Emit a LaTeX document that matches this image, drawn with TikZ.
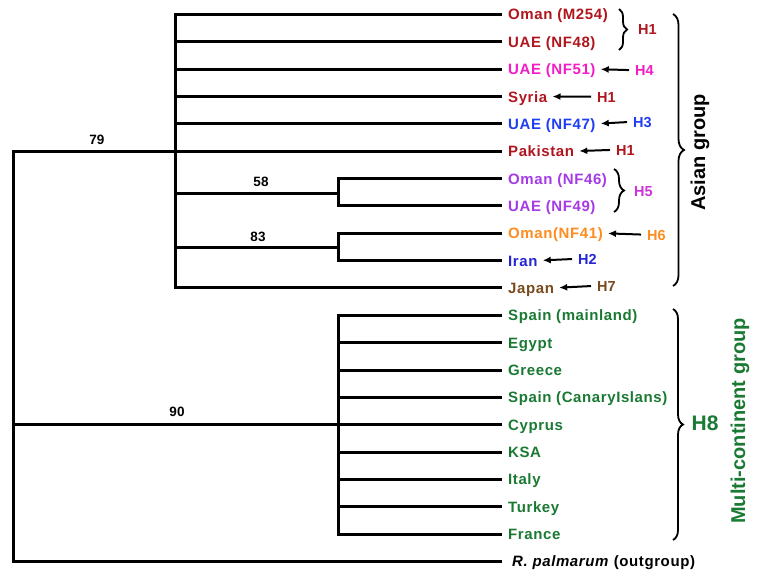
\documentclass[tikz,border=0pt]{standalone}
\usepackage{fontspec}
\setmainfont{Liberation Sans}
\usetikzlibrary{arrows.meta,decorations.pathreplacing}

\definecolor{hred}{HTML}{B0161E}
\definecolor{hpink}{HTML}{F21DC7}
\definecolor{hviolet}{HTML}{A63AE6}
\definecolor{hmag}{HTML}{CC33D9}
\definecolor{hblue}{HTML}{1F3DF2}
\definecolor{hindigo}{HTML}{2626D4}
\definecolor{horange}{HTML}{FF8C1F}
\definecolor{hbrown}{HTML}{7A4A1F}
\definecolor{hgreen}{HTML}{1A7A33}

\begin{document}
\begin{tikzpicture}[x=1pt,y=-1pt,
  tree/.style={line width=3pt,line join=miter},
  leaf/.style={anchor=base west,inner sep=0pt,text height=11pt,text depth=0pt,
    font=\fontsize{15}{18}\selectfont\bfseries\addfontfeatures{LetterSpace=4}},
  hlab/.style={anchor=base west,inner sep=0pt,text height=10.5pt,text depth=0pt,
    font=\fontsize{14.5}{17}\selectfont\bfseries},
  boot/.style={inner sep=0pt,font=\fontsize{13.5}{16}\selectfont\bfseries},
  arr/.style={line width=2pt,-{Latex[length=8pt,width=7pt]},shorten <=6pt,shorten >=5pt},
  brace/.style={decorate,decoration={brace,amplitude=#1},line width=1.8pt},
  group/.style={rotate=90,inner sep=0pt,font=\fontsize{20}{24}\selectfont\bfseries}]

\useasboundingbox[fill=white] (0,0) rectangle (762,571);

% ---- leaf labels ----
\node[leaf,text=hred]    (l1)  at (508,19.9)  {Oman (M254)};
\node[leaf,text=hred]    (l2)  at (508,47.3)  {UAE (NF48)};
\node[leaf,text=hpink]   (l3)  at (508,74.6)  {UAE (NF51)};
\node[leaf,text=hred]    (l4)  at (508,102.0) {Syria};
\node[leaf,text=hblue]   (l5)  at (508,129.3) {UAE (NF47)};
\node[leaf,text=hred]    (l6)  at (508,156.7) {Pakistan};
\node[leaf,text=hviolet] (l7)  at (508,184.0) {Oman (NF46)};
\node[leaf,text=hviolet] (l8)  at (508,211.4) {UAE (NF49)};
\node[leaf,text=horange] (l9)  at (508,238.7) {Oman(NF41)};
\node[leaf,text=hindigo] (l10) at (508,266.1) {Iran};
\node[leaf,text=hbrown]  (l11) at (508,293.4) {Japan};
\node[leaf,text=hgreen]  (l12) at (508,320.8) {Spain (mainland)};
\node[leaf,text=hgreen]  (l13) at (508,348.1) {Egypt};
\node[leaf,text=hgreen]  (l14) at (508,375.5) {Greece};
\node[leaf,text=hgreen]  (l15) at (508,402.8) {Spain (CanaryIslans)};
\node[leaf,text=hgreen]  (l16) at (508,430.2) {Cyprus};
\node[leaf,text=hgreen]  (l17) at (508,457.5) {KSA};
\node[leaf,text=hgreen]  (l18) at (508,484.9) {Italy};
\node[leaf,text=hgreen]  (l19) at (508,512.2) {Turkey};
\node[leaf,text=hgreen]  (l20) at (508,539.6) {France};
\node[leaf,text=black]   (l21) at (512,566.9) {\textit{R. palmarum} (outgroup)};

% branch tips
\foreach \i in {1,...,20} \coordinate (t\i) at ([xshift=-6pt]l\i.west);
\coordinate (t21) at ([xshift=-10pt]l21.west);

% internal nodes
\coordinate (Rt) at (13,400);
\coordinate (A)  at (175,152);
\coordinate (P5) at (338,193);
\coordinate (P6) at (338,247);
\coordinate (M)  at (338,425);

% ---- tree ----
\draw[tree] (t6) -| (Rt) |- (t21);
\draw[tree] (Rt |- t16) -- (t16);
\draw[tree] (t1) -| (A) |- (t11);
\foreach \i in {2,3,4,5} \draw[tree] (A |- t\i) -- (t\i);
\draw[tree] (A |- P5) -- (P5);
\draw[tree] (t7) -| (P5) |- (t8);
\draw[tree] (A |- P6) -- (P6);
\draw[tree] (t9) -| (P6) |- (t10);
\draw[tree] (t12) -| (M) |- (t20);
\foreach \i in {13,14,15,17,18,19} \draw[tree] (M |- t\i) -- (t\i);

% bootstrap values
\node[boot] (b79) at (97,140) {79};
\node[boot] (b58) at (261,182) {58};
\node[boot] (b83) at (258,237) {83};
\node[boot] (b90) at (177,412) {90};

% ---- haplotype labels with arrows ----
\node[hlab,text=hpink]   (h4) at (635,75.5)  {H4};
\node[hlab,text=hred]    (h1b) at (597,102.0) {H1};
\node[hlab,text=hblue]   (h3) at (633,127.0) {H3};
\node[hlab,text=hred]    (h1c) at (616,155.0) {H1};
\node[hlab,text=horange] (h6) at (647,240.0) {H6};
\node[hlab,text=hindigo] (h2) at (578,264.0) {H2};
\node[hlab,text=hbrown]  (h7) at (597,291.0) {H7};

\draw[arr] (h4.west)  -- (l3.east);
\draw[arr] (h1b.west) -- (l4.east);
\draw[arr] (h3.west)  -- (l5.east);
\draw[arr] (h1c.west) -- (l6.east);
\draw[arr] (h6.west)  -- (l9.east);
\draw[arr] (h2.west)  -- (l10.east);
\draw[arr] (h7.west)  -- (l11.east);

% ---- braces ----
\coordinate (bH1a) at (619,9);   \coordinate (bH1b) at (619,50);
\coordinate (bH5a) at (614,169); \coordinate (bH5b) at (614,212);
\coordinate (bAa) at (673,14);   \coordinate (bAb) at (673,286);
\coordinate (bMa) at (673,309);  \coordinate (bMb) at (673,540);
\draw[brace=8pt]  (bH1a) -- (bH1b);
\draw[brace=10pt] (bH5a) -- (bH5b);
\draw[brace=11pt] (bAa) -- (bAb);
\draw[brace=10pt] (bMa) -- (bMb);

\node[hlab,text=hred] (h1a) at (638,34.5) {H1};
\node[hlab,text=hmag] (h5)  at (634,196.5) {H5};
\node[inner sep=0pt,text=hgreen,font=\fontsize{21}{24}\selectfont\bfseries] (h8) at (705,423) {H8};

\node[group] (asian) at (700,152.5) {Asian group};
\node[group,text=hgreen] (multi) at (740,421) {Multi-continent group};

\end{tikzpicture}
\end{document}
